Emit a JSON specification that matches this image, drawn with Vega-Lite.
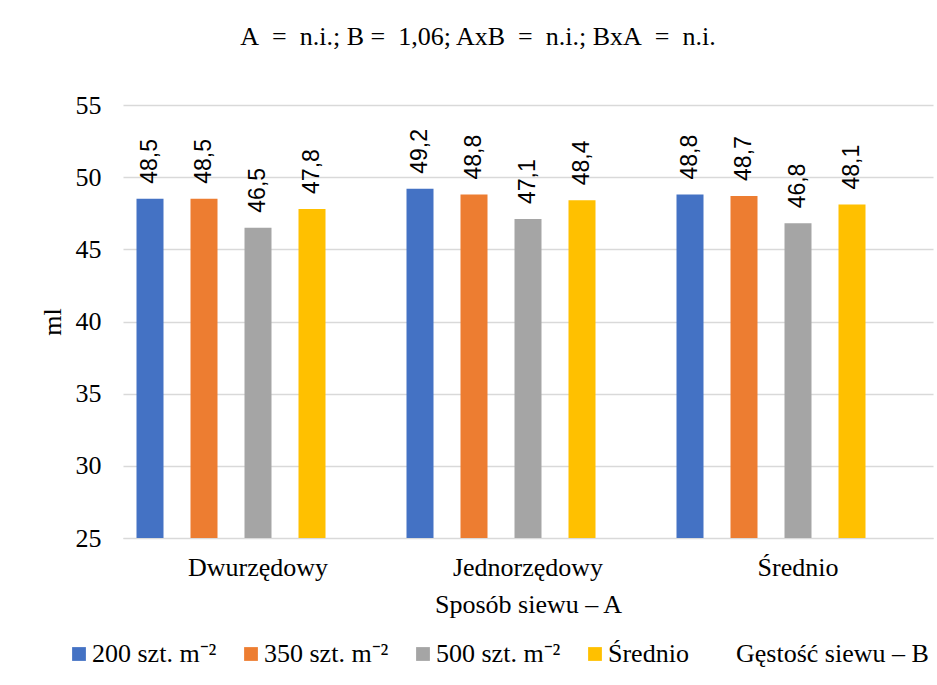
{
  "$schema": "https://vega.github.io/schema/vega-lite/v6.json",
  "width": 810,
  "height": 433,
  "autosize": {"type": "none"},
  "padding": {"left": 123, "top": 105, "right": 4, "bottom": 147},
  "background": "white",
  "title": {
    "text": "A\u00a0 =\u00a0 n.i.; B =\u00a0 1,06; AxB\u00a0 =\u00a0 n.i.; BxA\u00a0 =\u00a0 n.i.",
    "font": "Liberation Serif",
    "fontSize": 26,
    "fontWeight": "normal",
    "color": "#000000",
    "anchor": "middle",
    "dx": -50,
    "offset": 42
  },
  "data": {
    "values": [
      {"grupa": "Dwurzędowy", "seria": "200 szt. m⁻²", "value": 48.5},
      {"grupa": "Dwurzędowy", "seria": "350 szt. m⁻²", "value": 48.5},
      {"grupa": "Dwurzędowy", "seria": "500 szt. m⁻²", "value": 46.5},
      {"grupa": "Dwurzędowy", "seria": "Średnio", "value": 47.8},
      {"grupa": "Jednorzędowy", "seria": "200 szt. m⁻²", "value": 49.2},
      {"grupa": "Jednorzędowy", "seria": "350 szt. m⁻²", "value": 48.8},
      {"grupa": "Jednorzędowy", "seria": "500 szt. m⁻²", "value": 47.1},
      {"grupa": "Jednorzędowy", "seria": "Średnio", "value": 48.4},
      {"grupa": "Średnio", "seria": "200 szt. m⁻²", "value": 48.8},
      {"grupa": "Średnio", "seria": "350 szt. m⁻²", "value": 48.7},
      {"grupa": "Średnio", "seria": "500 szt. m⁻²", "value": 46.8},
      {"grupa": "Średnio", "seria": "Średnio", "value": 48.1}
    ]
  },
  "transform": [
    {"calculate": "replace(format(datum.value, '.1f'), '.', ',')", "as": "label"}
  ],
  "encoding": {
    "x": {
      "field": "grupa",
      "type": "nominal",
      "sort": ["Dwurzędowy", "Jednorzędowy", "Średnio"],
      "scale": {"paddingInner": 0, "paddingOuter": 0},
      "axis": {
        "title": "Sposób siewu – A",
        "labelAngle": 0,
        "labelFont": "Liberation Serif",
        "labelFontSize": 26,
        "labelColor": "#000000",
        "labelPadding": 16,
        "titleFont": "Liberation Serif",
        "titleFontSize": 26,
        "titleFontWeight": "normal",
        "titleColor": "#000000",
        "titlePadding": 11,
        "ticks": false,
        "domainColor": "#d9d9d9",
        "domainWidth": 1
      }
    },
    "xOffset": {
      "field": "seria",
      "type": "nominal",
      "scale": {
        "domain": ["200 szt. m⁻²", "350 szt. m⁻²", "500 szt. m⁻²", "Średnio", "Gęstość siewu – B"],
        "paddingInner": 0.5,
        "paddingOuter": 0.25
      }
    },
    "y": {
      "field": "value",
      "type": "quantitative",
      "scale": {"domain": [25, 55], "zero": false, "nice": false},
      "axis": {
        "title": "ml",
        "values": [25, 30, 35, 40, 45, 50, 55],
        "labelFont": "Liberation Serif",
        "labelFontSize": 26,
        "labelColor": "#000000",
        "labelPadding": 22,
        "titleFont": "Liberation Serif",
        "titleFontSize": 26,
        "titleFontWeight": "normal",
        "titleColor": "#000000",
        "titlePadding": 10,
        "ticks": false,
        "domain": false,
        "gridColor": "#d9d9d9",
        "gridWidth": 1.3
      }
    }
  },
  "layer": [
    {
      "mark": {"type": "bar"},
      "encoding": {
        "y2": {"datum": 25},
        "color": {
          "field": "seria",
          "type": "nominal",
          "scale": {
            "domain": ["200 szt. m⁻²", "350 szt. m⁻²", "500 szt. m⁻²", "Średnio", "Gęstość siewu – B"],
            "range": ["#4472C4", "#ED7D31", "#A5A5A5", "#FFC000", "transparent"]
          },
          "legend": {
            "title": null,
            "orient": "none",
            "direction": "horizontal",
            "legendX": -57,
            "legendY": 536,
            "symbolType": "square",
            "symbolSize": 190,
            "symbolStrokeWidth": 0,
            "labelFont": "Liberation Serif",
            "labelFontSize": 26,
            "labelColor": "#000000",
            "labelOffset": 0,
            "columnPadding": 21,
            "labelLimit": 300
          }
        }
      }
    },
    {
      "mark": {
        "type": "text",
        "angle": 270,
        "align": "left",
        "baseline": "middle",
        "dx": 15,
        "font": "Liberation Sans",
        "fontSize": 23,
        "color": "#000000"
      },
      "encoding": {
        "text": {"field": "label"}
      }
    }
  ],
  "config": {
    "view": {"stroke": null},
    "font": "Liberation Serif"
  }
}
